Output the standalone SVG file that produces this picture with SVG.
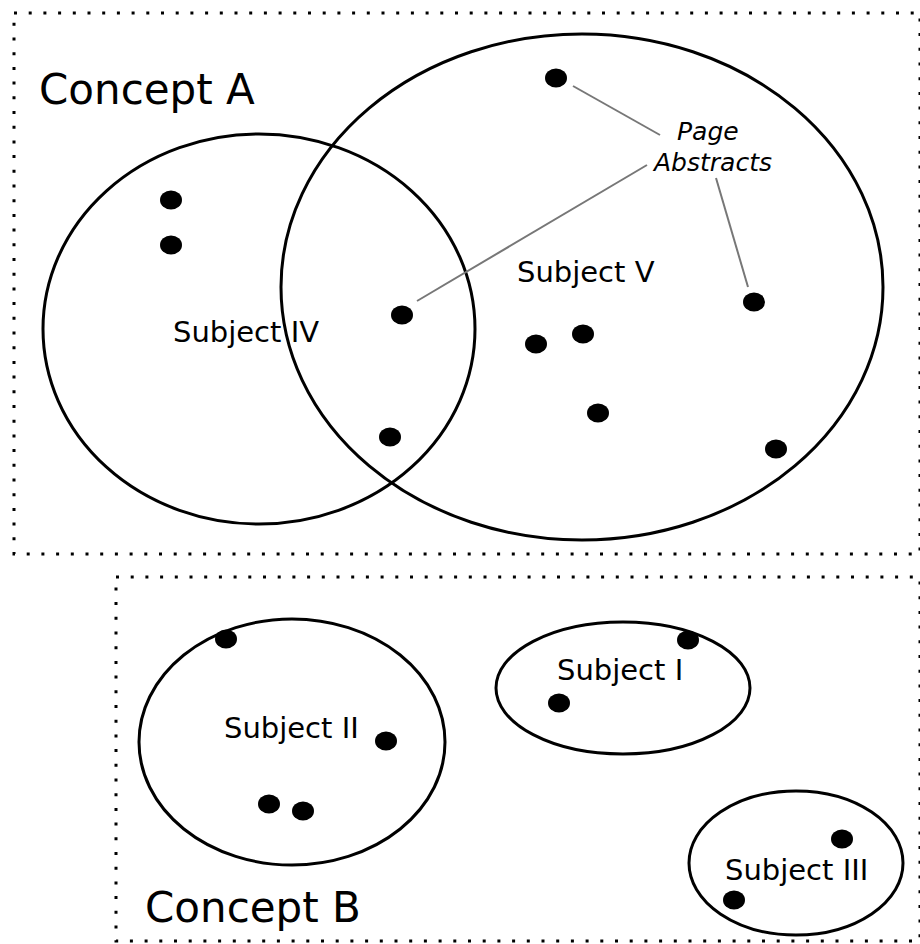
<svg xmlns="http://www.w3.org/2000/svg" width="920" height="944" viewBox="0 0 920 944">
<style>
.frame{fill:none;stroke:#000;stroke-width:3;stroke-dasharray:3 11.7}
.set{fill:none;stroke:#000;stroke-width:3}
.dot{fill:#000}
.lead{stroke:#777;stroke-width:2;fill:none}
.lbl{font-family:"DejaVu Sans",sans-serif;fill:#000}
.big{font-size:42px}
.sub{font-size:29px}
.pa{font-size:25px;font-style:italic}
</style>
<rect width="920" height="944" fill="#fff"/>
<g id="conceptA">
<rect class="frame" x="14" y="13" width="906" height="541"/>
<text class="lbl big" x="39" y="104">Concept A</text>
</g>
<g id="conceptB">
<rect class="frame" x="116" y="577" width="804" height="364"/>
<text class="lbl big" x="145" y="922">Concept B</text>
</g>
<g id="subjectIV">
<ellipse class="set" cx="259" cy="329" rx="216" ry="195"/>
<text class="lbl sub" x="173" y="342">Subject IV</text>
</g>
<g id="subjectV">
<ellipse class="set" cx="582" cy="287" rx="301" ry="253"/>
<text class="lbl sub" x="517" y="282">Subject V</text>
</g>
<g id="subjectII">
<ellipse class="set" cx="292" cy="742" rx="153" ry="123"/>
<text class="lbl sub" x="224" y="738">Subject II</text>
</g>
<g id="subjectI">
<ellipse class="set" cx="623" cy="688" rx="127" ry="66"/>
<text class="lbl sub" x="557" y="680">Subject I</text>
</g>
<g id="subjectIII">
<ellipse class="set" cx="796" cy="863" rx="107" ry="72"/>
<text class="lbl sub" x="725" y="880">Subject III</text>
</g>
<g id="pageAbstracts">
<text class="lbl pa" x="677" y="140">Page</text>
<text class="lbl pa" x="654" y="171">Abstracts</text>
</g>
<g id="connectors">
<line class="lead" x1="573" y1="86" x2="660" y2="135"/>
<line class="lead" x1="647" y1="165" x2="417" y2="301"/>
<line class="lead" x1="716" y1="178" x2="748" y2="287" stroke-width="1.3"/>
</g>
<g id="dots">
<ellipse class="dot" cx="556" cy="78" rx="11" ry="9.5"/>
<ellipse class="dot" cx="171" cy="200" rx="11" ry="9.5"/>
<ellipse class="dot" cx="171" cy="245" rx="11" ry="9.5"/>
<ellipse class="dot" cx="402" cy="315" rx="11" ry="9.5"/>
<ellipse class="dot" cx="754" cy="302" rx="11" ry="9.5"/>
<ellipse class="dot" cx="536" cy="344" rx="11" ry="9.5"/>
<ellipse class="dot" cx="583" cy="334" rx="11" ry="9.5"/>
<ellipse class="dot" cx="598" cy="413" rx="11" ry="9.5"/>
<ellipse class="dot" cx="390" cy="437" rx="11" ry="9.5"/>
<ellipse class="dot" cx="776" cy="449" rx="11" ry="9.5"/>
<ellipse class="dot" cx="226" cy="639" rx="11" ry="9.5"/>
<ellipse class="dot" cx="386" cy="741" rx="11" ry="9.5"/>
<ellipse class="dot" cx="269" cy="804" rx="11" ry="9.5"/>
<ellipse class="dot" cx="303" cy="811" rx="11" ry="9.5"/>
<ellipse class="dot" cx="688" cy="640" rx="11" ry="9.5"/>
<ellipse class="dot" cx="559" cy="703" rx="11" ry="9.5"/>
<ellipse class="dot" cx="842" cy="839" rx="11" ry="9.5"/>
<ellipse class="dot" cx="734" cy="900" rx="11" ry="9.5"/>
</g>
</svg>
